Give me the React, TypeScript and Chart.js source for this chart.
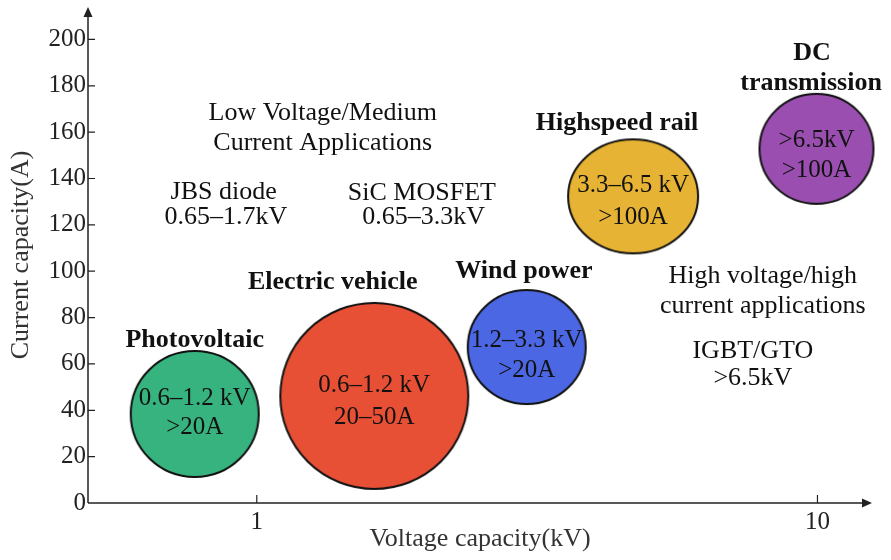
import { useEffect, useRef } from 'react';
import { Chart, registerables } from 'chart.js';
Chart.register(...registerables);

const FONT = "'Liberation Serif', 'Times New Roman', serif";

// ---- data ----
const categories = ['Photovoltaic', 'Electric vehicle', 'Wind power', 'Highspeed rail', 'DC transmission'];
const voltageKV = [0.775, 1.62, 3.03, 4.69, 9.96];
const currentA = [38.4, 46.2, 67.3, 132.3, 152.8];
const bubbleLine1 = ['0.6–1.2 kV', '0.6–1.2 kV', '1.2–3.3 kV', '3.3–6.5 kV', '>6.5kV'];
const bubbleLine2 = ['>20A', '20–50A', '>20A', '>100A', '>100A'];
const bubbleLine1Y = [45.3, 50.9, 70.3, 137.2, 156.6];
const bubbleLine2Y = [32.4, 37.1, 57.0, 123.4, 143.7];
const xTickValues = [1, 10];
const yTickValues = [0, 20, 40, 60, 80, 100, 120, 140, 160, 180, 200];

// text annotations (data coordinates)
const annotations = [
  { text: 'Photovoltaic', x: 0.775, y: 70.3, bold: true },
  { text: 'Electric vehicle', x: 1.366, y: 95.4, bold: true },
  { text: 'Wind power', x: 2.995, y: 100.1, bold: true },
  { text: 'Highspeed rail', x: 4.39, y: 164.0, bold: true },
  { text: 'DC', x: 9.78, y: 194.2, bold: true },
  { text: 'transmission', x: 9.74, y: 181.2, bold: true },
  { text: 'Low Voltage/Medium', x: 1.311, y: 168.3, bold: false },
  { text: 'Current Applications', x: 1.311, y: 155.3, bold: false },
  { text: 'JBS diode', x: 0.873, y: 134.2, bold: false },
  { text: '0.65–1.7kV', x: 0.881, y: 123.4, bold: false },
  { text: 'SiC MOSFET', x: 1.97, y: 133.8, bold: false },
  { text: '0.65–3.3kV', x: 1.985, y: 123.4, bold: false },
  { text: 'High voltage/high', x: 7.99, y: 98.0, bold: false },
  { text: 'current applications', x: 7.99, y: 85.0, bold: false },
  { text: 'IGBT/GTO', x: 7.67, y: 65.6, bold: false },
  { text: '>6.5kV', x: 7.67, y: 54.0, bold: false },
];

// ---- styles ----
const bubbleColors = ['#36b37f', '#e85036', '#4b67e3', '#e6b334', '#9a4fb0'];
const bubbleRx = [64, 94, 59, 65, 57];
const bubbleRy = [63, 93, 57, 57, 55];

function makeEllipse(rx: number, ry: number, fill: string) {
  const c = document.createElement('canvas');
  c.width = Math.round(rx * 2 + 4);
  c.height = Math.round(ry * 2 + 4);
  const g = c.getContext('2d')!;
  g.beginPath();
  g.ellipse(c.width / 2, c.height / 2, rx, ry, 0, 0, Math.PI * 2);
  g.fillStyle = fill;
  g.fill();
  g.lineWidth = 2;
  g.strokeStyle = '#111';
  g.stroke();
  return c;
}

const zeroPadding = (s: any) => {
  s.paddingTop = 0;
  s.paddingBottom = 0;
  s.paddingLeft = 0;
  s.paddingRight = 0;
};

const overlayPlugin = {
  id: 'overlay',
  afterDatasetsDraw(chart: any) {
    const { ctx, chartArea, scales } = chart;
    const { left, right, top, bottom } = chartArea;
    const xs = scales.x;
    const ys = scales.y;
    ctx.save();
    // axes
    ctx.strokeStyle = '#222';
    ctx.fillStyle = '#222';
    ctx.lineWidth = 1.5;
    ctx.beginPath();
    ctx.moveTo(left, bottom);
    ctx.lineTo(right - 6, bottom);
    ctx.moveTo(left, bottom);
    ctx.lineTo(left, top + 6);
    ctx.stroke();
    // arrowheads
    ctx.beginPath();
    ctx.moveTo(right, bottom);
    ctx.lineTo(right - 10, bottom - 4.5);
    ctx.lineTo(right - 10, bottom + 4.5);
    ctx.closePath();
    ctx.fill();
    ctx.beginPath();
    ctx.moveTo(left, top);
    ctx.lineTo(left - 4.5, top + 10);
    ctx.lineTo(left + 4.5, top + 10);
    ctx.closePath();
    ctx.fill();
    // tick marks
    ctx.lineWidth = 1.2;
    ctx.beginPath();
    yTickValues.forEach((v) => {
      if (v === 0) return;
      const py = ys.getPixelForValue(v);
      ctx.moveTo(left, py);
      ctx.lineTo(left + 7, py);
    });
    xTickValues.forEach((v) => {
      const px = xs.getPixelForValue(v);
      ctx.moveTo(px, bottom);
      ctx.lineTo(px, bottom - 8);
    });
    ctx.stroke();

    // texts
    ctx.fillStyle = '#111';
    ctx.textAlign = 'center';
    ctx.textBaseline = 'middle';
    ctx.font = `25px ${FONT}`;
    categories.forEach((_, i) => {
      const px = xs.getPixelForValue(voltageKV[i]);
      ctx.fillText(bubbleLine1[i], px, ys.getPixelForValue(bubbleLine1Y[i]));
      ctx.fillText(bubbleLine2[i], px, ys.getPixelForValue(bubbleLine2Y[i]));
    });
    annotations.forEach((a) => {
      ctx.font = `${a.bold ? 'bold ' : ''}26px ${FONT}`;
      ctx.fillText(a.text, xs.getPixelForValue(a.x), ys.getPixelForValue(a.y));
    });
    ctx.restore();
  },
};

export default function App() {
  const ref = useRef<HTMLCanvasElement>(null);
  useEffect(() => {
    document.body.style.margin = '0';
    const canvas = ref.current!;
    const images = bubbleColors.map((c, i) => makeEllipse(bubbleRx[i], bubbleRy[i], c));
    const chart = new Chart(canvas, {
      type: 'bubble',
      data: {
        datasets: [
          {
            label: 'Applications',
            data: voltageKV.map((v, i) => ({ x: v, y: currentA[i], r: 1 })),
            pointStyle: (c: any) => images[c.dataIndex],
            backgroundColor: bubbleColors,
            borderColor: '#111',
            clip: false,
          } as any,
        ],
      },
      options: {
        responsive: false,
        animation: false,
        devicePixelRatio: 1,
        layout: { padding: { top: 7, right: 19, left: 0, bottom: 0 } },
        plugins: { legend: { display: false }, tooltip: { enabled: false } },
        scales: {
          x: {
            type: 'logarithmic',
            min: 0.5,
            max: 12.51,
            position: 'bottom',
            grid: { display: false, drawTicks: false },
            border: { display: false },
            afterBuildTicks: (ax: any) => {
              ax.ticks = xTickValues.map((v) => ({ value: v }));
            },
            ticks: {
              font: { family: FONT, size: 25 },
              color: '#222',
              padding: 4,
              maxRotation: 0,
              autoSkip: false,
              callback: (v: any) => String(v),
            },
            title: {
              display: true,
              text: 'Voltage capacity(kV)',
              font: { family: FONT, size: 26 },
              color: '#333',
              padding: { top: 0, bottom: 5 },
            },
            afterFit: (s: any) => {
              s.height = 57;
              zeroPadding(s);
            },
          },
          y: {
            type: 'linear',
            min: 0,
            max: 214,
            position: 'left',
            grid: { display: false, drawTicks: false },
            border: { display: false },
            afterBuildTicks: (ax: any) => {
              ax.ticks = yTickValues.map((v) => ({ value: v }));
            },
            ticks: {
              font: { family: FONT, size: 25 },
              color: '#222',
              padding: 2,
              autoSkip: false,
              callback: (v: any) => String(v),
            },
            title: {
              display: true,
              text: 'Current capacity(A)',
              font: { family: FONT, size: 26 },
              color: '#333',
              padding: { top: 6, bottom: 0 },
            },
            afterFit: (s: any) => {
              s.width = 88;
              zeroPadding(s);
            },
          },
        },
      } as any,
      plugins: [overlayPlugin],
    });
    return () => chart.destroy();
  }, []);
  return (
    <div style={{ position: 'absolute', left: 0, top: 0, width: 891, height: 560 }}>
      <canvas ref={ref} width={891} height={560} style={{ display: 'block' }} />
    </div>
  );
}
